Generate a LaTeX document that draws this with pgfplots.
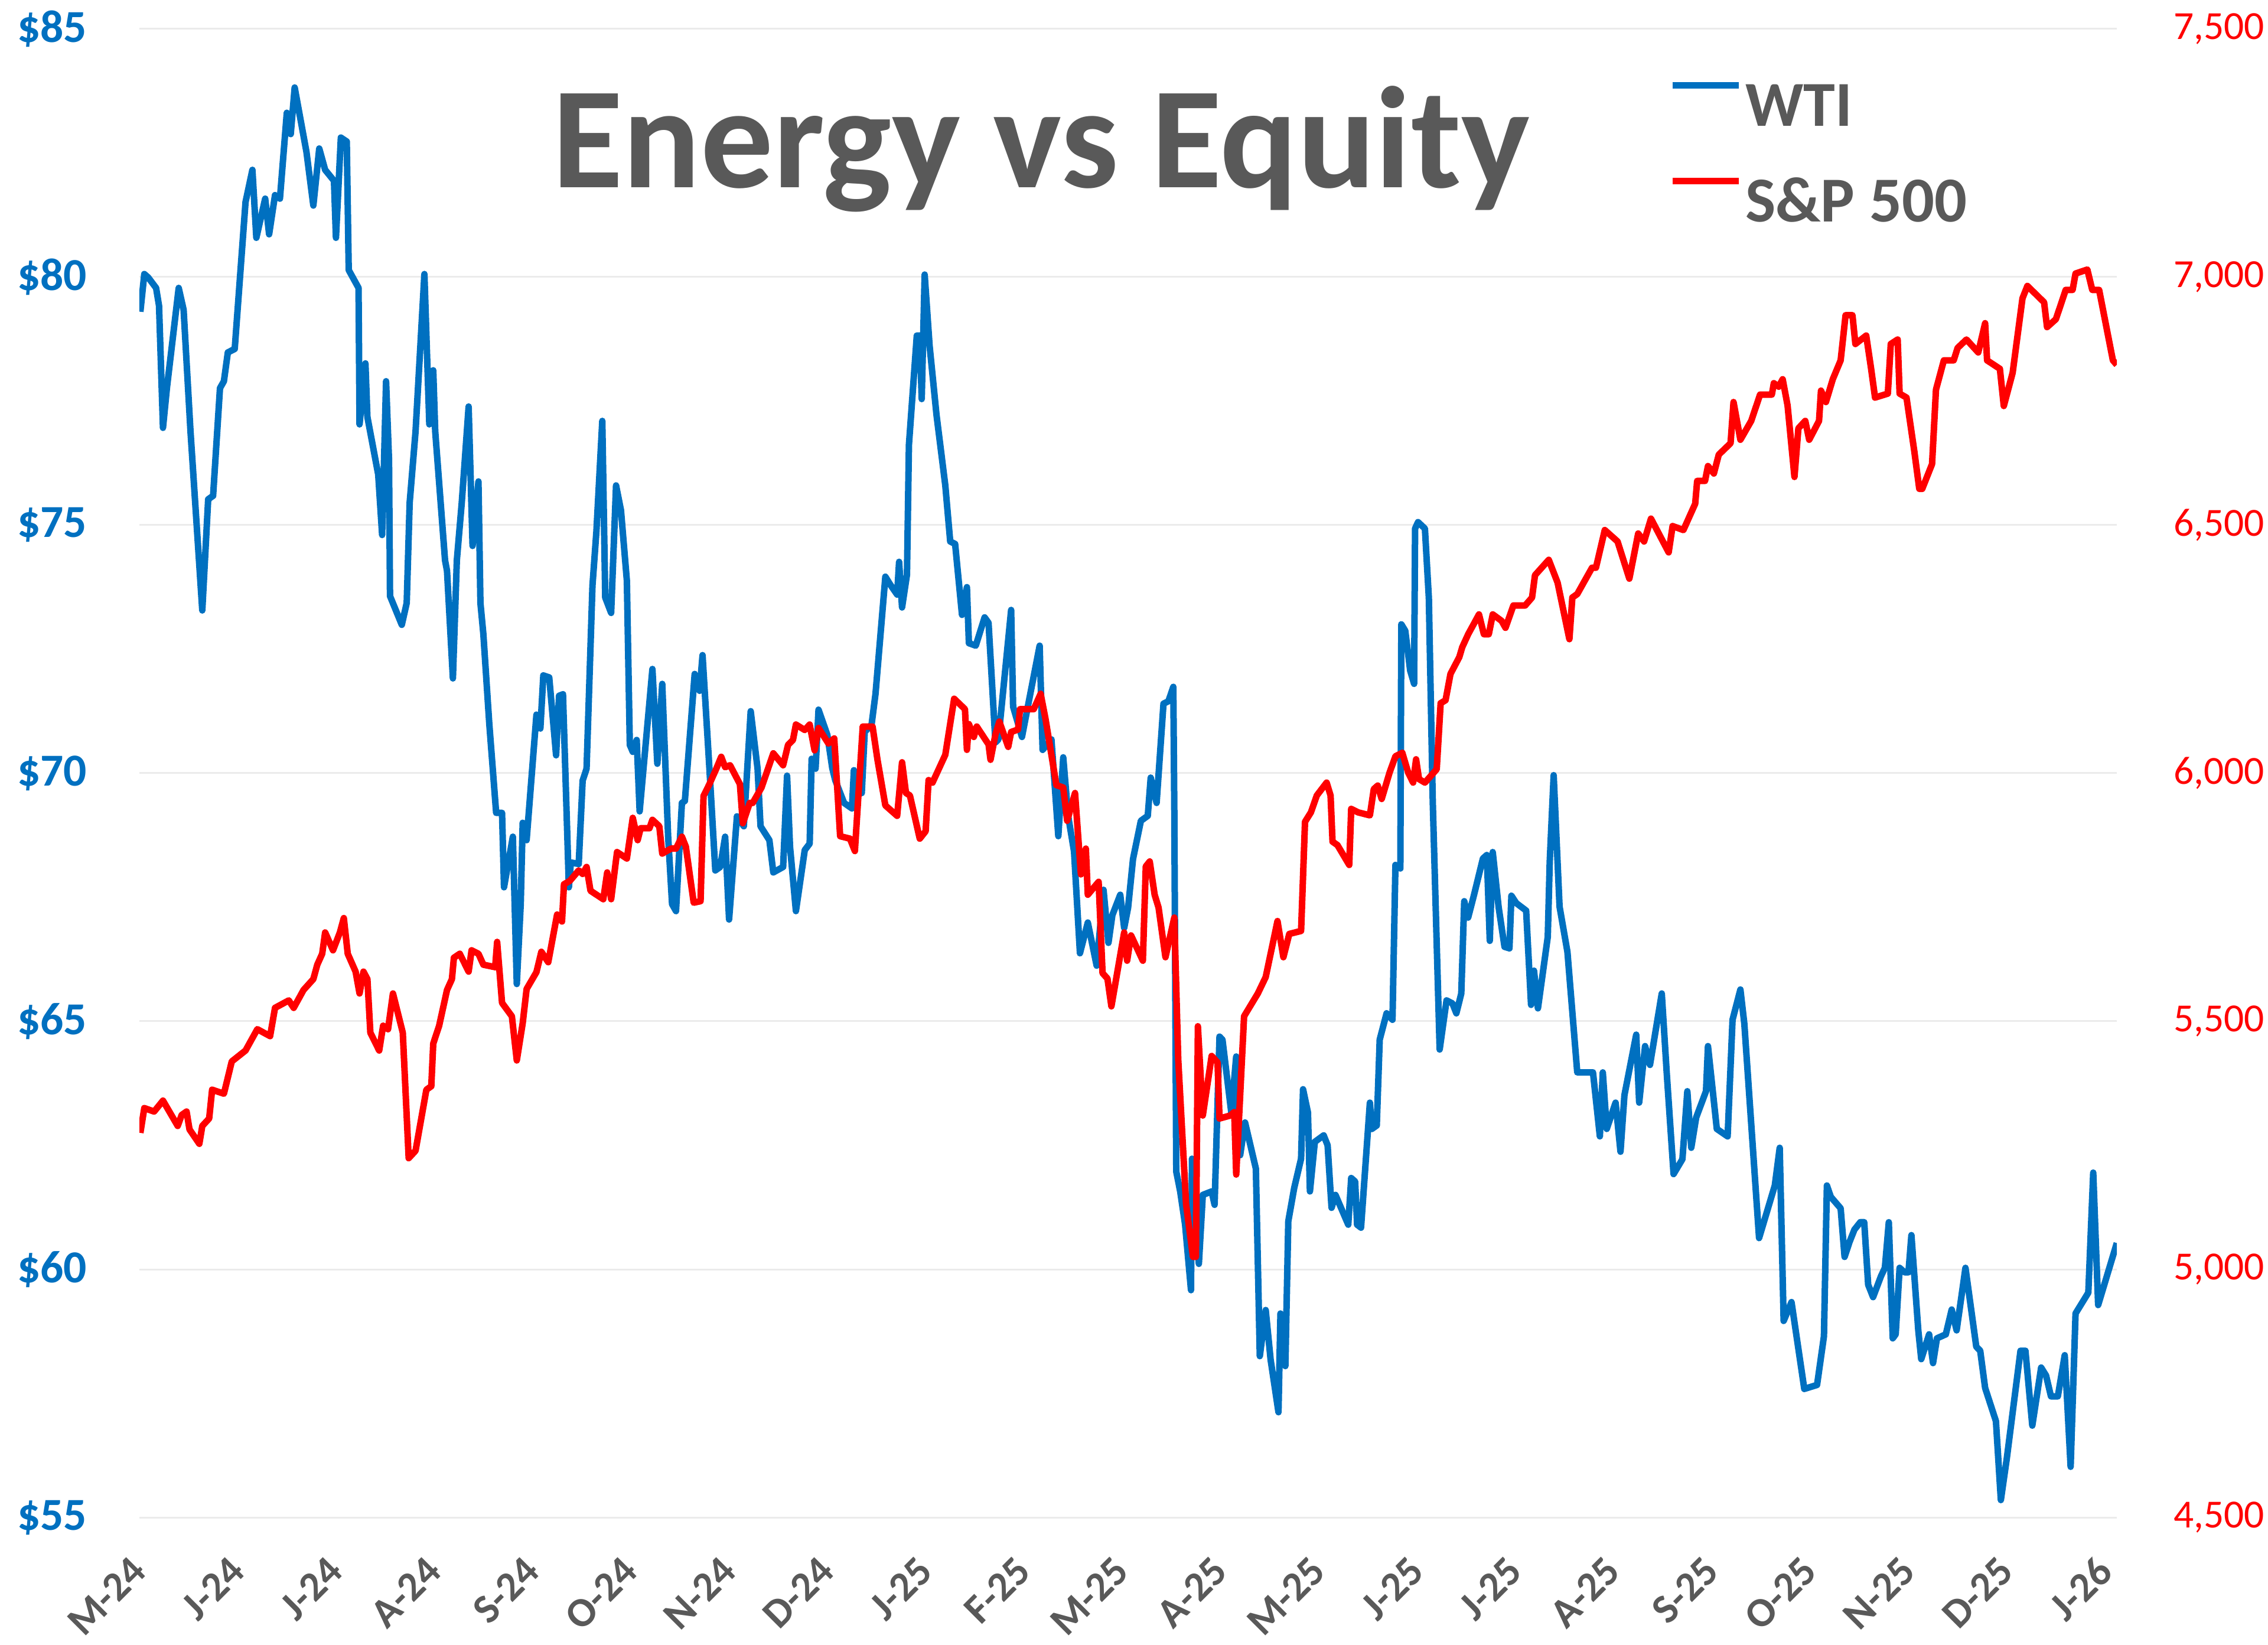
\documentclass[border=0pt]{standalone}
\usepackage{fontspec}
\setmainfont{Carlito}
\usepackage{pgfplots}
\pgfplotsset{compat=1.18}
\definecolor{wtiblue}{RGB}{0,112,192}
\definecolor{spred}{RGB}{255,0,0}
\definecolor{txtgray}{RGB}{89,89,89}
\definecolor{gridgray}{RGB}{235,235,235}

\begin{document}
\begin{tikzpicture}
\useasboundingbox (-47.2pt,-43pt) rectangle (720.8pt,513.8pt);
\pgfplotsset{
  common/.style={
    scale only axis, width=669.6pt, height=504pt,
    at={(0pt,0pt)}, anchor=south west,
    xmin=0, xmax=20.12,
    axis line style={draw=none},
    major tick length=0pt,
  }
}
% WTI, left axis (months since May 2024 on x)
\begin{axis}[common,
  ymin=55, ymax=85, ytick={55,60,...,85},
  yticklabels={\$55,\$60,\$65,\$70,\$75,\$80,\$85},
  ymajorgrids, grid style={gridgray, line width=0.6pt},
  xtick={0,...,20},
  xticklabels={M-24,J-24,J-24,A-24,S-24,O-24,N-24,D-24,J-25,F-25,M-25,A-25,M-25,J-25,J-25,A-25,S-25,O-25,N-25,D-25,J-26},
  x tick label style={xshift=-3.5pt, yshift=-12.3pt, rotate=45, anchor=north east, inner sep=0pt,
    font=\fontsize{14}{16}\selectfont\bfseries, text=txtgray},
  y tick label style={anchor=east, inner sep=0pt, xshift=-17.6pt,
    font=\fontsize{15.5}{17}\selectfont\bfseries, text=wtiblue},
]
\addplot[wtiblue, line width=2.2pt, line join=round] coordinates {
(0.01,79.3) (0.05,80.06) (0.09,79.99) (0.17,79.78) (0.20,79.42) (0.24,76.96) (0.28,77.76)
(0.40,79.78) (0.45,79.34) (0.52,76.89) (0.64,73.28) (0.70,75.52) (0.75,75.59) (0.82,77.76)
(0.86,77.9) (0.90,78.48) (0.97,78.55) (1.08,81.51) (1.15,82.16) (1.19,80.79) (1.28,81.58)
(1.32,80.86) (1.38,81.65) (1.43,81.58) (1.50,83.31) (1.54,82.88) (1.58,83.82) (1.70,82.52)
(1.77,81.44) (1.83,82.59) (1.89,82.16) (1.98,81.94) (2.00,80.79) (2.05,82.81) (2.11,82.73)
(2.13,80.14) (2.23,79.78) (2.24,77.03) (2.30,78.26) (2.32,77.18) (2.43,76.02) (2.47,74.80)
(2.51,77.9) (2.54,76.31) (2.55,73.57) (2.67,72.99) (2.72,73.43) (2.75,75.45) (2.81,76.89)
(2.90,80.06) (2.95,77.03) (2.99,78.12) (3.01,76.89) (3.11,74.29) (3.13,74.08) (3.19,71.91)
(3.23,74.29) (3.28,75.45) (3.35,77.39) (3.39,74.58) (3.45,75.88) (3.47,73.43) (3.50,72.8)
(3.56,71.0) (3.63,69.2) (3.69,69.2) (3.71,67.7) (3.80,68.72) (3.84,65.75) (3.88,67.36)
(3.90,69.0) (3.94,68.65) (4.04,71.18) (4.08,70.9) (4.11,71.97) (4.17,71.93) (4.24,70.36)
(4.27,71.56) (4.31,71.59) (4.37,67.7) (4.39,68.2) (4.47,68.17) (4.51,69.85) (4.55,70.09)
(4.61,73.78) (4.65,74.87) (4.71,77.1) (4.74,73.54) (4.80,73.23) (4.85,75.8) (4.90,75.3)
(4.96,73.88) (4.99,70.57) (5.02,70.43) (5.06,70.67) (5.09,69.23) (5.22,72.10) (5.27,70.19)
(5.32,71.80) (5.38,68.72) (5.42,67.36) (5.46,67.22) (5.52,69.4) (5.55,69.44) (5.65,72.0)
(5.70,71.66) (5.73,72.38) (5.80,70.09) (5.86,68.04) (5.91,68.11) (5.96,68.72) (6.00,67.05)
(6.08,69.13) (6.15,68.93) (6.22,71.25) (6.29,70.09) (6.32,68.93) (6.41,68.65) (6.45,68.00)
(6.55,68.11) (6.59,69.95) (6.62,68.52) (6.68,67.22) (6.77,68.45) (6.82,68.58) (6.84,70.29)
(6.88,70.09) (6.91,71.28) (7.00,70.77) (7.05,70.1) (7.08,69.86) (7.17,69.4) (7.25,69.29)
(7.27,70.06) (7.35,69.6) (7.38,70.83) (7.45,70.98) (7.49,71.6) (7.59,73.96) (7.64,73.8)
(7.71,73.6) (7.73,74.26) (7.76,73.34) (7.81,74.0) (7.83,76.62) (7.91,78.82) (7.94,78.82)
(7.96,77.54) (7.99,80.05) (8.04,78.62) (8.11,77.23) (8.20,75.8) (8.25,74.67) (8.30,74.62)
(8.37,73.19) (8.42,73.75) (8.44,72.62) (8.51,72.57) (8.60,73.14) (8.64,73.03) (8.71,70.62)
(8.74,70.68) (8.87,73.29) (8.89,71.34) (8.98,70.73) (9.06,71.55) (9.16,72.57) (9.19,70.47)
(9.28,70.68) (9.35,68.73) (9.40,70.32) (9.45,69.14) (9.51,68.42) (9.57,66.37) (9.65,66.99)
(9.74,66.12) (9.81,67.65) (9.86,66.58) (9.90,67.14) (9.98,67.55) (10.02,66.88) (10.06,67.29)
(10.11,68.27) (10.19,69.04) (10.26,69.14) (10.29,69.91) (10.35,69.4) (10.42,71.4) (10.47,71.45)
(10.52,71.74) (10.53,69.3) (10.55,61.97) (10.59,61.57) (10.64,60.9) (10.70,59.58) (10.71,62.23)
(10.72,61.5) (10.78,60.11) (10.82,61.5) (10.91,61.57) (10.94,61.3) (10.99,64.69) (11.02,64.63)
(11.11,63.16) (11.16,64.29) (11.20,62.3) (11.25,62.96) (11.36,62.03) (11.40,58.25) (11.46,59.18)
(11.51,58.18) (11.59,57.12) (11.61,59.11) (11.66,58.05) (11.69,60.97) (11.75,61.64) (11.82,62.23)
(11.84,63.63) (11.89,63.16) (11.91,61.57) (11.96,62.57) (12.05,62.7) (12.09,62.5) (12.13,61.24)
(12.17,61.5) (12.30,60.9) (12.33,61.84) (12.37,61.77) (12.39,60.9) (12.43,60.84) (12.52,63.36)
(12.54,62.83) (12.59,62.9) (12.62,64.63) (12.69,65.16) (12.75,65.03) (12.78,68.15) (12.83,68.08)
(12.84,73.0) (12.88,72.87) (12.93,72.07) (12.97,71.8) (12.98,74.93) (13.01,75.06) (13.08,74.93)
(13.12,73.53) (13.16,69.41) (13.23,64.43) (13.30,65.42) (13.36,65.36) (13.40,65.16) (13.45,65.56)
(13.48,67.42) (13.52,67.09) (13.58,67.55) (13.67,68.28) (13.71,68.35) (13.74,66.62) (13.77,68.41)
(13.83,67.3) (13.89,66.5) (13.94,66.47) (13.96,67.53) (14.01,67.38) (14.11,67.23) (14.16,65.33)
(14.19,66.02) (14.23,65.26) (14.33,66.7) (14.35,68.22) (14.39,69.96) (14.45,67.31) (14.53,66.4)
(14.63,63.97) (14.79,63.97) (14.86,62.68) (14.89,63.97) (14.93,62.83) (15.02,63.36) (15.07,62.37)
(15.11,63.51) (15.23,64.73) (15.26,63.36) (15.32,64.5) (15.37,64.12) (15.49,65.56) (15.54,63.97)
(15.61,61.92) (15.70,62.22) (15.75,63.59) (15.79,62.45) (15.84,63.06) (15.94,63.59) (15.96,64.5)
(16.05,62.83) (16.16,62.68) (16.21,65.03) (16.29,65.64) (16.33,64.95) (16.48,60.63) (16.64,61.69)
(16.69,62.45) (16.73,58.96) (16.81,59.34) (16.94,57.59) (17.07,57.67) (17.14,58.65) (17.17,61.69)
(17.21,61.46) (17.31,61.23) (17.35,60.25) (17.40,60.55) (17.45,60.8) (17.51,60.95) (17.55,60.95)
(17.59,59.69) (17.64,59.44) (17.72,59.86) (17.76,60.03) (17.80,60.95) (17.84,58.61) (17.87,58.69)
(17.91,60.03) (17.96,59.94) (18.00,59.94) (18.03,60.69) (18.10,58.77) (18.13,58.19) (18.21,58.69)
(18.25,58.11) (18.29,58.61) (18.38,58.69) (18.44,59.19) (18.49,58.77) (18.58,60.03) (18.69,58.44)
(18.73,58.36) (18.78,57.61) (18.89,56.94) (18.94,55.35) (19.00,56.18) (19.14,58.36) (19.19,58.36)
(19.26,56.85) (19.35,58.02) (19.40,57.86) (19.45,57.44) (19.52,57.44) (19.59,58.27) (19.65,56.02)
(19.70,59.11) (19.83,59.53) (19.88,61.95) (19.93,59.28) (20.12,60.53)
};
\end{axis}
% S&P 500, right axis
\begin{axis}[common,
  axis y line*=right, hide x axis,
  ymin=4500, ymax=7500, ytick={4500,5000,...,7500},
  yticklabels={{4,500},{5,000},{5,500},{6,000},{6,500},{7,000},{7,500}},
  y tick label style={anchor=west, inner sep=0pt, xshift=19pt,
    font=\fontsize{13.5}{16}\selectfont, text=spred},
  legend style={at={(0.7736,0.9643)}, anchor=north west, draw=none, fill=none,
    inner sep=0pt, outer sep=0pt, row sep=17.6pt, column sep=1.2pt,
    font=\fontsize{21.7}{26}\selectfont\bfseries, text=txtgray,
    nodes={inner sep=0pt, text height=14pt, text depth=0pt}},
  legend cell align=left,
  legend image code/.code={\draw[#1] (0pt,6.8pt) -- (22.4pt,6.8pt);},
]
\addlegendimage{wtiblue, line width=2.2pt}
\addlegendentry{WTI}
\addplot[spred, line width=2.2pt, line join=round] coordinates {
(0.01,5275) (0.05,5325) (0.15,5318) (0.24,5340) (0.39,5289) (0.43,5311) (0.48,5318) (0.51,5282)
(0.61,5253) (0.64,5289) (0.71,5304) (0.74,5362) (0.86,5354) (0.94,5419) (1.08,5441) (1.20,5484)
(1.33,5470) (1.38,5527) (1.52,5542) (1.57,5527) (1.67,5563) (1.77,5585) (1.81,5614) (1.86,5636)
(1.89,5679) (1.97,5643) (2.04,5679) (2.08,5708) (2.12,5636) (2.20,5600) (2.24,5556) (2.28,5600)
(2.32,5585) (2.35,5477) (2.44,5441) (2.48,5491) (2.53,5484) (2.58,5556) (2.68,5477) (2.74,5224)
(2.81,5239) (2.92,5362) (2.97,5369) (2.99,5455) (3.05,5491) (3.13,5563) (3.18,5585) (3.20,5628)
(3.26,5636) (3.35,5600) (3.38,5643) (3.45,5636) (3.50,5614) (3.62,5609) (3.64,5660) (3.69,5537)
(3.79,5510) (3.84,5421) (3.90,5496) (3.94,5565) (4.04,5599) (4.09,5640) (4.16,5619) (4.25,5715)
(4.30,5701) (4.32,5776) (4.38,5783) (4.47,5804) (4.51,5797) (4.55,5811) (4.59,5763) (4.72,5746)
(4.76,5800) (4.80,5746) (4.86,5841) (4.96,5828) (5.02,5910) (5.07,5865) (5.10,5889) (5.19,5889)
(5.22,5906) (5.29,5893) (5.32,5838) (5.41,5848) (5.46,5848) (5.52,5872) (5.56,5852) (5.64,5739)
(5.71,5742) (5.74,5954) (5.80,5978) (5.87,6009) (5.92,6033) (5.96,6012) (6.01,6016) (6.11,5978)
(6.14,5899) (6.21,5940) (6.24,5940) (6.33,5971) (6.45,6040) (6.55,6016) (6.60,6057) (6.65,6067)
(6.68,6098) (6.77,6087) (6.82,6098) (6.87,6046) (6.91,6091) (7.01,6060) (7.07,6070) (7.13,5873)
(7.23,5868) (7.28,5843) (7.36,6094) (7.46,6094) (7.51,6027) (7.59,5935) (7.71,5914) (7.76,6022)
(7.80,5960) (7.84,5955) (7.94,5868) (8.00,5883) (8.03,5986) (8.07,5981) (8.20,6037) (8.29,6150)
(8.40,6129) (8.42,6047) (8.44,6099) (8.49,6073) (8.52,6094) (8.64,6058) (8.66,6027) (8.71,6078)
(8.75,6104) (8.84,6053) (8.87,6083) (8.94,6088) (8.96,6129) (9.10,6129) (9.17,6160) (9.22,6109)
(9.33,5976) (9.40,5971) (9.44,5904) (9.52,5960) (9.58,5796) (9.63,5848) (9.65,5755) (9.76,5781)
(9.80,5597) (9.85,5586) (9.89,5530) (10.02,5679) (10.05,5622) (10.09,5673) (10.21,5622) (10.24,5812)
(10.28,5822) (10.33,5755) (10.37,5729) (10.44,5629) (10.53,5709) (10.57,5423) (10.65,5131) (10.72,5025)
(10.75,5025) (10.77,5490) (10.82,5310) (10.91,5430) (10.97,5417) (10.99,5304) (11.10,5310) (11.14,5317)
(11.16,5191) (11.24,5510) (11.38,5556) (11.46,5589) (11.58,5702) (11.64,5629) (11.70,5676) (11.82,5682)
(11.86,5902) (11.92,5921) (11.98,5955) (12.08,5981) (12.12,5955) (12.14,5862) (12.19,5855) (12.31,5815)
(12.33,5928) (12.40,5921) (12.52,5915) (12.56,5968) (12.60,5975) (12.64,5948) (12.72,6001) (12.78,6034)
(12.85,6041) (12.91,6001) (12.96,5981) (12.99,6028) (13.02,5988) (13.08,5981) (13.20,6008) (13.24,6141)
(13.29,6147) (13.34,6200) (13.43,6234) (13.46,6254) (13.52,6280) (13.63,6320) (13.68,6280) (13.73,6280)
(13.77,6320) (13.86,6307) (13.90,6293) (13.98,6338) (14.10,6338) (14.17,6354) (14.20,6399) (14.34,6430)
(14.43,6384) (14.55,6270) (14.58,6354) (14.63,6361) (14.78,6414) (14.82,6414) (14.91,6490) (15.04,6467)
(15.16,6392) (15.25,6483) (15.31,6467) (15.38,6513) (15.56,6445) (15.60,6498) (15.71,6490) (15.83,6543)
(15.85,6589) (15.93,6589) (15.96,6619) (16.02,6604) (16.07,6642) (16.19,6665) (16.22,6748) (16.29,6672)
(16.40,6710) (16.49,6763) (16.61,6763) (16.63,6786) (16.68,6779) (16.72,6794) (16.77,6741) (16.84,6597)
(16.88,6695) (16.95,6710) (16.99,6672) (17.09,6710) (17.11,6771) (17.16,6748) (17.23,6794) (17.31,6832)
(17.36,6923) (17.43,6923) (17.46,6865) (17.57,6882) (17.62,6815) (17.66,6757) (17.79,6765) (17.82,6865)
(17.89,6874) (17.91,6765) (17.98,6757) (18.06,6648) (18.11,6573) (18.14,6573) (18.24,6623) (18.28,6773)
(18.36,6832) (18.46,6832) (18.50,6857) (18.59,6874) (18.71,6848) (18.78,6907) (18.80,6832) (18.93,6815)
(18.97,6740) (19.06,6807) (19.16,6957) (19.21,6982) (19.38,6949) (19.41,6899) (19.50,6915) (19.60,6974)
(19.67,6974) (19.70,7007) (19.82,7015) (19.87,6974) (19.94,6974) (20.08,6832) (20.12,6823)
};
\addlegendentry{S\&P 500}
\end{axis}
\node[anchor=base, font=\fontsize{49}{55}\selectfont\bfseries, text=txtgray] at (305.3pt,450.2pt) {Energy vs Equity};
\end{tikzpicture}
\end{document}
